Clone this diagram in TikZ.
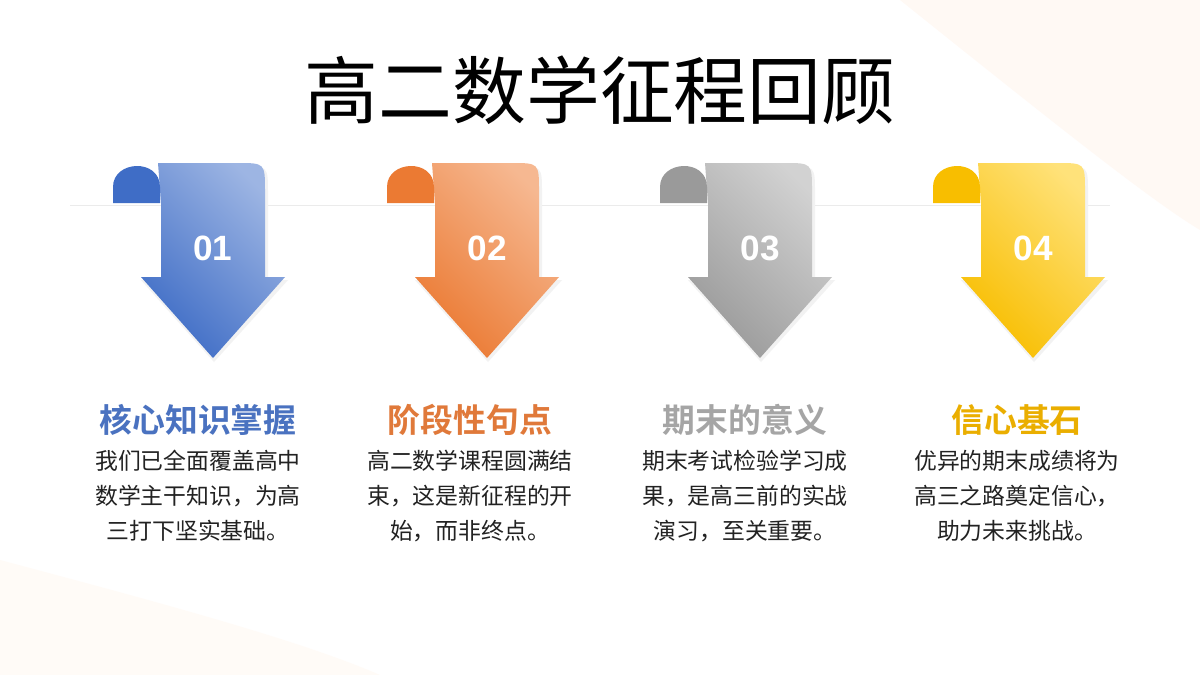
\documentclass[tikz,border=0pt]{standalone}
\usepackage{fontspec}
\setmainfont{Liberation Sans}
\newfontfamily\cjk{Noto Sans CJK SC}[BoldFont=Noto Sans CJK SC Bold]
\usetikzlibrary{positioning}
\definecolor{blueA}{HTML}{3F6DC6}\definecolor{blueB}{HTML}{9DB5E3}
\definecolor{orangeA}{HTML}{EB7A33}\definecolor{orangeB}{HTML}{F6B891}
\definecolor{grayA}{HTML}{9A9A9A}\definecolor{grayB}{HTML}{D2D2D2}
\definecolor{yellowA}{HTML}{F8BE00}\definecolor{yellowB}{HTML}{FFE27A}
\definecolor{headblue}{HTML}{4A72C0}\definecolor{headorange}{HTML}{E0793A}
\definecolor{headgray}{HTML}{A5A5A5}\definecolor{headyellow}{HTML}{EAAE00}
\definecolor{bodytext}{HTML}{222222}
\tikzset{
  numtext/.style={text=white,font=\bfseries\fontsize{30}{30}\selectfont},
  headtext/.style={font=\cjk\bfseries\fontsize{28}{28}\selectfont},
  desctext/.style={text=bodytext,align=center,font=\cjk\fontsize{19.5}{30}\selectfont}
}
\begin{document}
\begin{tikzpicture}[x=0.03cm,y=-0.03cm]
\useasboundingbox (0,0) rectangle (1200,675);
\fill[white] (0,0) rectangle (1200,675);
\fill[orange!6,opacity=0.7] (900,0) .. controls (1050,120) and (1150,200) .. (1200,230) -- (1200,0) -- cycle;
\fill[orange!5,opacity=0.6] (0,560) .. controls (150,600) and (300,640) .. (380,675) -- (0,675) -- cycle;
\draw[black!8,line width=0.6pt] (70,205) -- (1110,205);
\node[font=\cjk\fontsize{63}{63}\selectfont] (title) at (600,90) {高二数学征程回顾};

\foreach \cx/\ca/\cb/\num/\nm in {213/blueA/blueB/01/a,487/orangeA/orangeB/02/b,760/grayA/grayB/03/c,1033/yellowA/yellowB/04/d}{
  % arrow body
  \fill[black!5] (\cx-50,166) -- (\cx+28,166) .. controls (\cx+55,166) .. (\cx+55,193) -- (\cx+55,280) -- (\cx+75,280) -- (\cx+1,362) -- (\cx-72,280) -- (\cx-50,280) -- cycle;
  \shade[left color=\cb,right color=\ca,shading angle=-45] (\cx-55,163) -- (\cx+24,163) .. controls (\cx+52,163) .. (\cx+52,191) -- (\cx+52,277) -- (\cx+72,277) -- (\cx,358) -- (\cx-72,277) -- (\cx-52,277) -- (\cx-52,203) -- cycle;
  % curl
  \fill[\ca] (\cx-100,203) -- (\cx-100,187) .. controls (\cx-100,160) and (\cx-53,158) .. (\cx-53,187) -- (\cx-53,203) -- cycle;
  \node[numtext] (num\nm) at (\cx,248) {\num};
}
\node[headtext,text=headblue] (heada) at (198,420) {核心知识掌握};
\node[headtext,text=headorange] (headb) at (470,420) {阶段性句点};
\node[headtext,text=headgray] (headc) at (745,420) {期末的意义};
\node[headtext,text=headyellow] (headd) at (1017,420) {信心基石};
\node[desctext,anchor=north] (desca) at (198,446) {我们已全面覆盖高中\\数学主干知识，为高\\三打下坚实基础。};
\node[desctext,anchor=north] (descb) at (470,446) {高二数学课程圆满结\\束，这是新征程的开\\始，而非终点。};
\node[desctext,anchor=north] (descc) at (745,446) {期末考试检验学习成\\果，是高三前的实战\\演习，至关重要。};
\node[desctext,anchor=north] (descd) at (1017,446) {优异的期末成绩将为\\高三之路奠定信心，\\助力未来挑战。};
\end{tikzpicture}
\end{document}
